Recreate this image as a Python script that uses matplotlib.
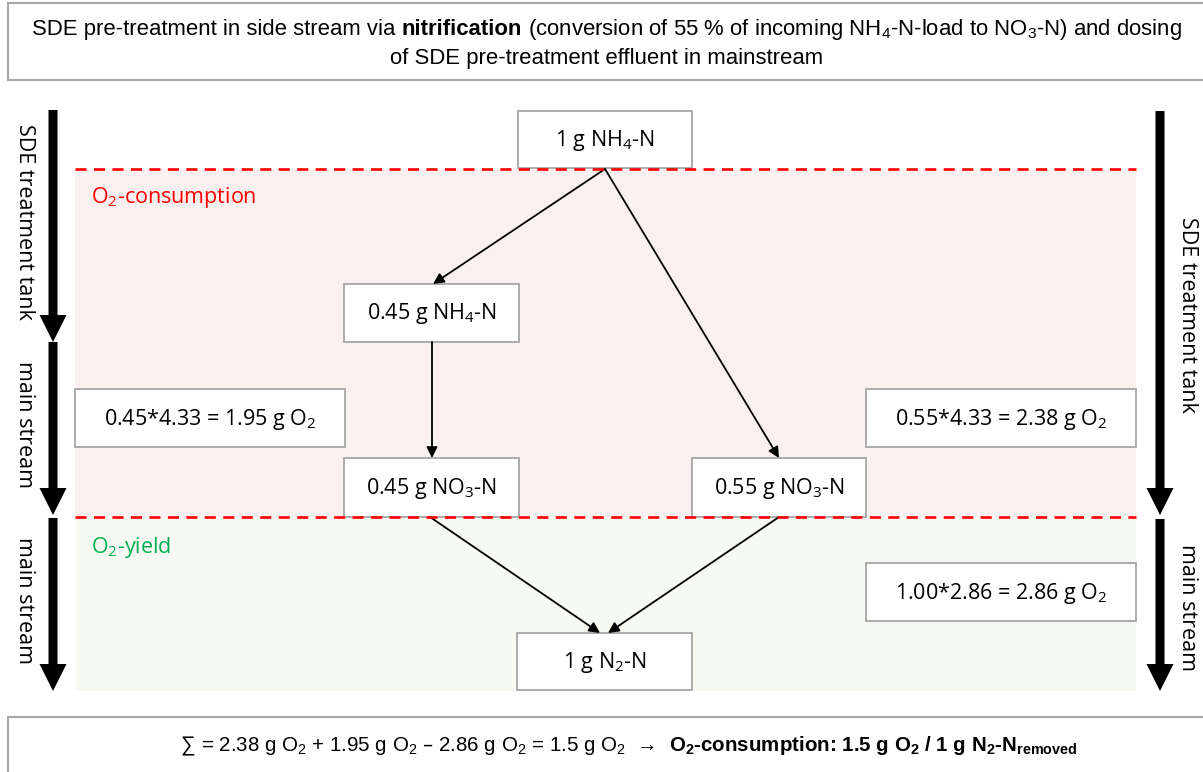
import matplotlib
matplotlib.use("Agg")
import matplotlib.pyplot as plt
from matplotlib.patches import Rectangle, FancyArrow, FancyArrowPatch

plt.rcParams['mathtext.default'] = 'regular'

# nitrogen load (g N) and oxygen factors
nh4_in = 1.0
nh4_frac = [0.45, 0.55]      # left as NH4 / nitrified in side stream
o2_nitr = 4.33               # g O2 per g N nitrified
o2_denit = 2.86              # g O2 recovered per g N denitrified
zone_labels = ["O$_2$-consumption", "O$_2$-yield"]
left_labels = ["SDE treatment tank", "main stream", "main stream"]
right_labels = ["SDE treatment tank", "main stream"]

W, H = 1203, 772
BODY = ['Open Sans', 'DejaVu Sans']
HEAD = ['Liberation Sans Narrow', 'Liberation Sans', 'DejaVu Sans']
EDGE = '#a6a6a6'
FS = 15.5

fig = plt.figure(figsize=(W / 100, H / 100), dpi=100)
ax = fig.add_axes([0, 0, 1, 1])
ax.set_xlim(0, W)
ax.set_ylim(H, 0)
ax.axis('off')
rend = fig.canvas.get_renderer()


def box(x0, y0, x1, y1, label, size=FS):
    ax.add_patch(Rectangle((x0, y0), x1 - x0, y1 - y0, fc='white', ec=EDGE, lw=1.3, zorder=3))
    ax.text((x0 + x1) / 2, (y0 + y1) / 2 + 1, label, ha='center', va='center',
            fontsize=size, family=BODY, zorder=4)


def runs(xc, y, parts, size, family):
    # parts: (text, weight, spaces after)
    sp = ax.text(0, 0, 'x x', fontsize=size, family=family)
    nsp = ax.text(0, 0, 'xx', fontsize=size, family=family)
    space = sp.get_window_extent(rend).width - nsp.get_window_extent(rend).width
    sp.remove()
    nsp.remove()
    texts, widths = [], []
    for s, w, gap in parts:
        t = ax.text(0, y, s, fontsize=size, fontweight=w, family=family,
                    va='baseline', ha='left', zorder=5)
        texts.append(t)
        widths.append(t.get_window_extent(rend).width + gap * space)
    x = xc - sum(widths) / 2
    for t, w in zip(texts, widths):
        t.set_x(x)
        x += w


def arrow(p0, p1):
    ax.add_patch(FancyArrowPatch(p0, p1, arrowstyle='-|>', mutation_scale=16,
                                 color='black', lw=1.3, shrinkA=0, shrinkB=0, zorder=4))


# zones
ax.add_patch(Rectangle((75, 169), 1061, 348, fc='#fbf0f0', lw=0, zorder=1))
ax.add_patch(Rectangle((75, 517), 1061, 174, fc='#f7f9f3', lw=0, zorder=1))
for yy in (169, 517):
    ax.plot([75, 1136], [yy, yy], color='#ff0000', lw=1.9, ls=(0, (4.2, 2.8)), zorder=6)
ax.text(91, 198, zone_labels[0], color='#ff0000', fontsize=FS, family=BODY, va='center')
ax.text(91, 547, zone_labels[1], color='#00b050', fontsize=FS, family=BODY, va='center')

# thick stage arrows
for (y0, y1), lab in zip([(110, 342), (342, 515), (518, 691)], left_labels):
    ax.add_patch(FancyArrow(53, y0, 0, y1 - y0, width=9, head_width=27, head_length=27,
                            length_includes_head=True, color='black', lw=0, zorder=2))
    ax.text(24, (y0 + y1) / 2 - 4, lab, rotation=-90, ha='center', va='center',
            fontsize=FS, family=BODY)
for (y0, y1), lab in zip([(111, 515), (519, 691)], right_labels):
    ax.add_patch(FancyArrow(1160, y0, 0, y1 - y0, width=9, head_width=27, head_length=27,
                            length_includes_head=True, color='black', lw=0, zorder=2))
    ax.text(1188, (y0 + y1) / 2 + 2, lab, rotation=-90, ha='center', va='center',
            fontsize=FS, family=BODY)

# nitrogen nodes
box(518, 111, 692, 168, f"{nh4_in:g} g NH$_4$-N")
box(344, 284, 519, 342, f"{nh4_frac[0]:.2f} g NH$_4$-N")
box(344, 458, 519, 517, f"{nh4_frac[0]:.2f} g NO$_3$-N")
box(692, 458, 866, 517, f"{nh4_frac[1]:.2f} g NO$_3$-N")
box(517, 633, 692, 690, f"{nh4_in:g} g N$_2$-N")

# oxygen balance boxes
c_left = round(nh4_frac[0] * o2_nitr, 2)
c_right = round(nh4_frac[1] * o2_nitr, 2)
y_denit = round(nh4_in * o2_denit, 2)
box(75, 389, 345, 447, f"{nh4_frac[0]:.2f}*{o2_nitr:.2f} = {c_left:.2f} g O$_2$")
box(866, 389, 1136, 447, f"{nh4_frac[1]:.2f}*{o2_nitr:.2f} = {c_right:.2f} g O$_2$")
box(866, 563, 1136, 621, f"{nh4_in:.2f}*{o2_denit:.2f} = {y_denit:.2f} g O$_2$")

arrow((605, 169), (433, 284))
arrow((605, 169), (779, 458))
arrow((432, 342), (432, 458))
arrow((430, 517), (600, 633))
arrow((779, 517), (608, 633))

# header
ax.add_patch(Rectangle((8, 3), 1210, 77, fc='white', ec=EDGE, lw=1.5, zorder=3))
runs(607, 35, [("SDE pre-treatment in side stream via", 'normal', 1),
               ("nitrification", 'bold', 1),
               (f"(conversion of {nh4_frac[1] * 100:.0f} % of incoming NH$_4$-N-load to NO$_3$-N) and dosing", 'normal', 0)],
     15.9, HEAD)
runs(607, 64, [("of SDE pre-treatment effluent in mainstream", 'normal', 0)], 15.9, HEAD)

# balance
net = c_right + c_left - y_denit
ax.add_patch(Rectangle((8, 717), 1210, 70, fc='white', ec=EDGE, lw=1.5, zorder=3))
runs(629, 751, [("∑", 'normal', 1),
                (f"= {c_right:.2f} g O$_2$ + {c_left:.2f} g O$_2$ – {y_denit:.2f} g O$_2$ = {net:.1f} g O$_2$", 'normal', 2),
                ("→", 'normal', 2),
                (f"O$_2$-consumption: {net:.1f} g O$_2$ / 1 g N$_2$-N$_{{removed}}$", 'bold', 0)],
     14.8, HEAD)

fig.savefig("out.png", dpi=100)
